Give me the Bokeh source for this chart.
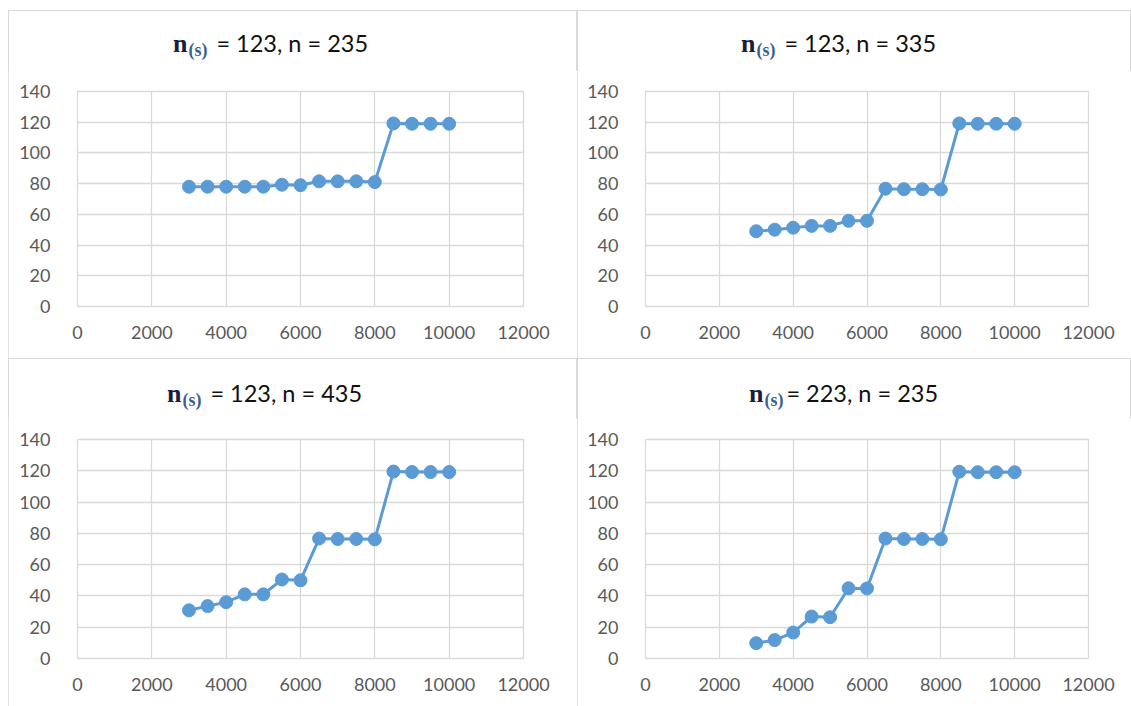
from bokeh.plotting import figure
from bokeh.layouts import column, row
from bokeh.models import Range1d, FixedTicker, ColumnDataSource, Div, Spacer
from bokeh.embed import file_html
from bokeh.resources import INLINE

# ---- data ----
x_values = [3000, 3500, 4000, 4500, 5000, 5500, 6000, 6500, 7000, 7500, 8000, 8500, 9000, 9500, 10000]
y_ns123_n235 = [78, 78, 78, 78, 78, 79.3, 79, 81.5, 81.5, 81.5, 81, 119.2, 119, 119, 119]
y_ns123_n335 = [49, 50, 51.3, 52.5, 52.5, 55.8, 55.8, 76.7, 76.4, 76.4, 76.2, 119.2, 119, 119, 119]
y_ns123_n435 = [30.8, 33.5, 36, 41, 41, 50.5, 50, 76.7, 76.4, 76.4, 76.2, 119.5, 119.2, 119.2, 119.2]
y_ns223_n235 = [9.8, 11.8, 16.6, 26.8, 26.4, 44.9, 44.8, 76.7, 76.4, 76.4, 76.2, 119.4, 119.1, 119.1, 119.1]
series = [y_ns123_n235, y_ns123_n335, y_ns123_n435, y_ns223_n235]
ns_labels = ["123", "123", "123", "223"]
n_labels = ["235", "335", "435", "235"]
x_ticks = [0, 2000, 4000, 6000, 8000, 10000, 12000]
y_ticks = [0, 20, 40, 60, 80, 100, 120, 140]

# ---- styling ----
BLUE = "#5b9bd5"
GRID = "#d9d9d9"
TICK_COLOR = "#595959"
widths = [569, 554, 569, 554]
div_h = 60
fig_h = 288
tops = [21, 21, 21, 21]
bottoms = [52, 52, 48, 48]
lefts = [69, 68, 69, 68]
rights = [54, 43, 54, 43]
title_pad_left = [165, 164, 159, 172]
title_gap = [9, 9, 9, 3]
title_pad_top = [20, 20, 22, 22]


def make_panel(i):
    p = figure(width=widths[i], height=fig_h, output_backend="svg",
               toolbar_location=None, x_range=Range1d(0, 12000), y_range=Range1d(0, 140),
               min_border_left=lefts[i], min_border_right=rights[i],
               min_border_top=tops[i], min_border_bottom=bottoms[i],
               background_fill_color="white", border_fill_color="white",
               outline_line_color=GRID, outline_line_width=1.3)
    src = ColumnDataSource(dict(x=x_values, y=series[i]))
    p.line("x", "y", source=src, line_color=BLUE, line_width=3)
    p.scatter("x", "y", source=src, size=13, fill_color=BLUE, line_color=BLUE)

    for ax in (p.xaxis[0], p.yaxis[0]):
        ax.axis_line_color = None
        ax.major_tick_line_color = None
        ax.minor_tick_line_color = None
        ax.major_label_text_font = "Lato"
        ax.major_label_text_font_size = "18px"
        ax.major_label_text_color = TICK_COLOR
    p.xaxis[0].ticker = FixedTicker(ticks=x_ticks)
    p.yaxis[0].ticker = FixedTicker(ticks=y_ticks)
    p.xaxis[0].major_label_standoff = 13
    p.yaxis[0].major_label_standoff = 21
    p.xgrid[0].ticker = FixedTicker(ticks=x_ticks)
    p.ygrid[0].ticker = FixedTicker(ticks=y_ticks)
    p.xgrid[0].grid_line_color = GRID
    p.ygrid[0].grid_line_color = GRID
    p.xgrid[0].grid_line_width = 1.3
    p.ygrid[0].grid_line_width = 1.3

    html = (
        f'<div style="font-family: Lato; font-size: 23.5px; line-height: 26px; color: #111111; '
        f'white-space: nowrap; padding-left: {title_pad_left[i]}px; padding-top: {title_pad_top[i]}px;">'
        '<span style="font-family: \'Liberation Serif\'; font-weight: bold; font-size: 26px; color: #1c1c3c;">n</span>'
        '<span style="font-family: \'Liberation Serif\'; font-weight: bold; font-size: 18px; color: #3a5f8f; '
        'position: relative; top: 4px; margin-left: 1px;">(s)</span>'
        f'<span style="margin-left: {title_gap[i]}px;">= {ns_labels[i]}, n = {n_labels[i]}</span>'
        '</div>'
    )
    d = Div(text=html, width=widths[i], height=div_h, styles={"margin": "0", "padding": "0"})
    return column(d, p, width=widths[i], height=div_h + fig_h, spacing=0,
                  styles={"outline": "1px solid #d9d9d9", "outline-offset": "-1px",
                          "background-color": "white"})


panels = [make_panel(i) for i in range(4)]
grid = column(row(panels[0], panels[1], spacing=0), row(panels[2], panels[3], spacing=0), spacing=0)
root = column(Spacer(height=10), row(Spacer(width=8), grid, spacing=0), spacing=0)

open("out.html", "w").write(file_html(root, INLINE))
